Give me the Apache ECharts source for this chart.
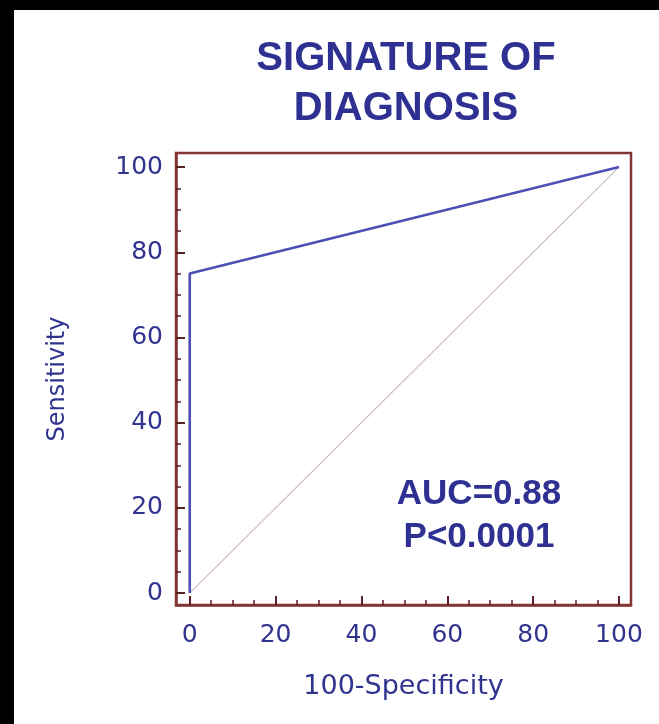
<!DOCTYPE html>
<html>
<head>
<meta charset="utf-8">
<script src="https://cdn.jsdelivr.net/npm/echarts@6/dist/echarts.min.js"></script>
<style>
  html, body { margin: 0; padding: 0; background: #fff; }
  #chart { width: 659px; height: 724px; }
</style>
</head>
<body>
<div id="chart"></div>
<script>
// ROC curve for the diagnostic signature (percent scale)
const rocX = [0, 0, 100];          // 100 - specificity
const rocY = [0, 75, 100];         // sensitivity
// chance diagonal
const refX = [0, 100];
const refY = [0, 100];
// axis tick positions
const majorTicks = [0, 20, 40, 60, 80, 100];
const minorTicks = [5, 10, 15, 25, 30, 35, 45, 50, 55, 65, 70, 75, 85, 90, 95];
// annotation
const titleLines = ['SIGNATURE OF', 'DIAGNOSIS'];
const statLines = ['AUC=0.88', 'P<0.0001'];

const navy = '#2e3192';
const labelBlue = '#30348f';
const frameRed = '#843434';
const tickRed = '#5e2222';
const axisFont = 'DejaVu Sans';

const chart = echarts.init(document.getElementById('chart'), null, { renderer: 'canvas' });

function valueAxis(extra, range) {
  return Object.assign({
    type: 'value',
    min: range[0],
    max: range[1],
    splitLine: { show: false },
    axisLine: { show: false, onZero: false }
  }, extra);
}

const xRange = [-3.2, 102.8];
const yRange = [-2.8, 103.3];

const option = {
  backgroundColor: '#fff',
  animation: false,
  title: {
    text: titleLines.join('\n'),
    left: 401,
    top: 29,
    textAlign: 'center',
    textStyle: {
      fontFamily: 'Liberation Sans',
      fontWeight: 'bold',
      fontSize: 40,
      lineHeight: 50,
      color: navy
    }
  },
  grid: {
    left: 176,
    top: 153,
    width: 455,
    height: 452,
    show: true,
    borderColor: frameRed,
    borderWidth: 2.5,
    backgroundColor: 'transparent'
  },
  xAxis: [
    valueAxis({
      position: 'bottom',
      axisLine: { show: true, onZero: false, lineStyle: { color: frameRed, width: 2.5 } },
      axisTick: { show: true, inside: true, length: 9, customValues: majorTicks,
                  lineStyle: { color: tickRed, width: 2 } },
      axisLabel: { customValues: majorTicks, margin: 18, fontSize: 25,
                   fontFamily: axisFont, color: labelBlue },
      name: '100-Specificity',
      nameLocation: 'middle',
      nameGap: 68,
      nameTextStyle: { fontFamily: axisFont, fontSize: 27, color: labelBlue }
    }, xRange),
    valueAxis({
      position: 'bottom',
      axisTick: { show: true, inside: true, length: 5, customValues: minorTicks,
                  lineStyle: { color: tickRed, width: 1.5 } },
      axisLabel: { show: false }
    }, xRange)
  ],
  yAxis: [
    valueAxis({
      position: 'left',
      axisLine: { show: true, onZero: false, lineStyle: { color: frameRed, width: 2.5 } },
      axisTick: { show: true, inside: true, length: 9, customValues: majorTicks,
                  lineStyle: { color: tickRed, width: 2 } },
      axisLabel: { customValues: majorTicks, margin: 13, fontSize: 25,
                   fontFamily: axisFont, color: labelBlue },
      name: 'Sensitivity',
      nameLocation: 'middle',
      nameGap: 106,
      nameTextStyle: { fontFamily: axisFont, fontSize: 24, color: labelBlue }
    }, yRange),
    valueAxis({
      position: 'left',
      axisTick: { show: true, inside: true, length: 5, customValues: minorTicks,
                  lineStyle: { color: tickRed, width: 1.5 } },
      axisLabel: { show: false }
    }, yRange)
  ],
  series: [
    {
      name: 'chance',
      type: 'line',
      xAxisIndex: 0,
      yAxisIndex: 0,
      data: refX.map((x, i) => [x, refY[i]]),
      symbol: 'none',
      silent: true,
      lineStyle: { color: '#cdbcbc', width: 1.2 },
      z: 2
    },
    {
      name: 'ROC',
      type: 'line',
      xAxisIndex: 0,
      yAxisIndex: 0,
      data: rocX.map((x, i) => [x, rocY[i]]),
      symbol: 'none',
      lineStyle: { color: '#4b50b4', width: 2.6 },
      z: 3
    }
  ],
  graphic: [
    { type: 'rect', shape: { x: 0, y: 0, width: 14, height: 724 }, style: { fill: '#000' }, z: 100 },
    { type: 'rect', shape: { x: 0, y: 0, width: 659, height: 10 }, style: { fill: '#000' }, z: 100 },
    {
      type: 'text', x: 479, y: 494, z: 50,
      style: { text: statLines[0], align: 'center', verticalAlign: 'middle',
               textAlign: 'center', textVerticalAlign: 'middle',
               fontFamily: 'Liberation Sans', fontWeight: 'bold', fontSize: 35, fill: navy }
    },
    {
      type: 'text', x: 479, y: 537, z: 50,
      style: { text: statLines[1], align: 'center', verticalAlign: 'middle',
               textAlign: 'center', textVerticalAlign: 'middle',
               fontFamily: 'Liberation Sans', fontWeight: 'bold', fontSize: 35, fill: navy }
    }
  ]
};

chart.setOption(option);
</script>
</body>
</html>
